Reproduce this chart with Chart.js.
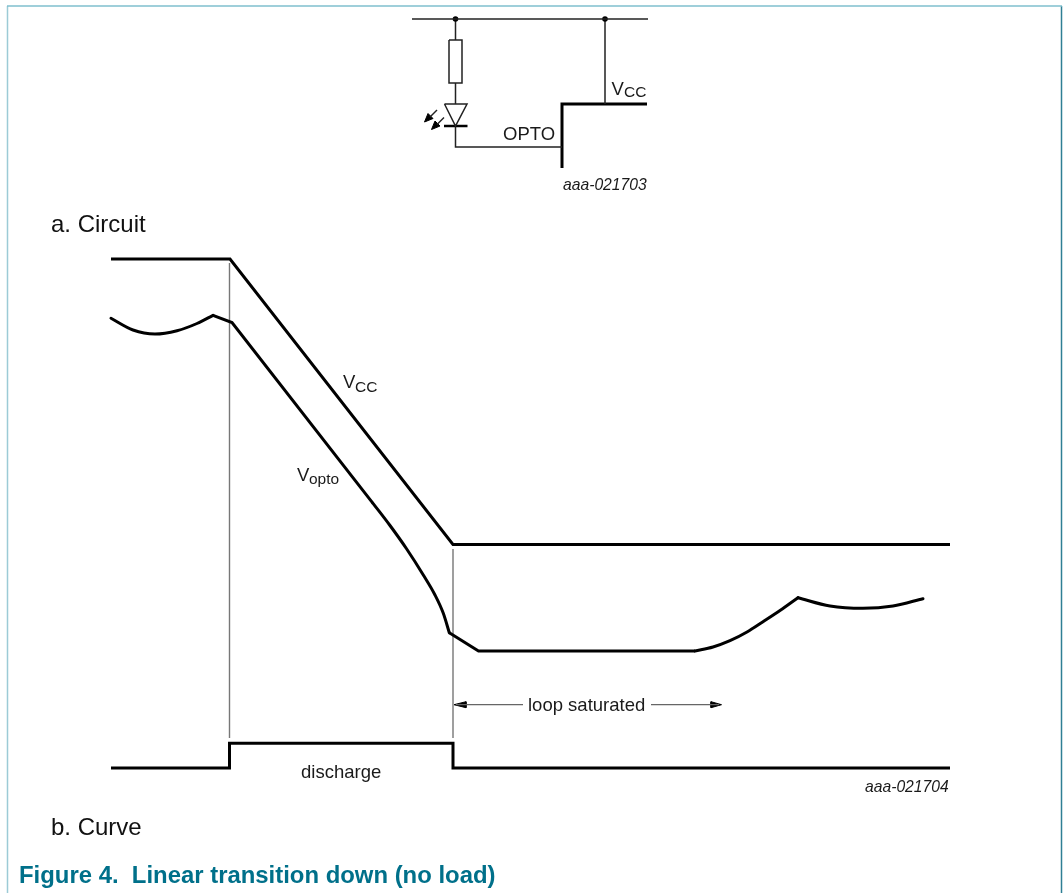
<!DOCTYPE html>
<html>
<head>
<meta charset="utf-8">
<title>Linear transition down (no load)</title>
<script src="https://cdn.jsdelivr.net/npm/chart.js@4"></script>
<style>
  html, body { margin: 0; padding: 0; background: #fff; }
  canvas { display: block; }
</style>
</head>
<body>
<canvas id="chart" width="1063" height="893"></canvas>
<script>
// waveforms (x / y, y grows downwards)
const vccX = [111, 230, 453, 950];
const vccY = [259, 259, 544.5, 544.5];

const voptoArcX = [111, 133, 155, 177, 197, 213];
const voptoArcY = [318.3, 330, 334, 330.7, 323.5, 315.3];
const voptoFallX = [213, 232, 373];
const voptoFallY = [315.3, 322.5, 503.3];
const voptoBendX = [373, 390, 406.7, 423.3, 435, 443.3, 449.3];
const voptoBendY = [503.3, 525.5, 549, 575, 595, 613.3, 632.7];
const voptoFlatX = [449.3, 478.5, 695];
const voptoFlatY = [632.7, 651, 651];
const voptoRiseX = [695, 713, 730, 747, 763, 780, 798];
const voptoRiseY = [651, 647, 640.7, 632, 621.7, 610.5, 597.7];
const voptoTailX = [798, 830, 863, 893, 923];
const voptoTailY = [597.7, 606, 608.3, 606, 598.7];

const dischargeX = [111, 229.5, 229.5, 453, 453, 950];
const dischargeY = [768, 768, 743.3, 743.3, 768, 768];

// timing guides and the "loop saturated" arrow
const guideAX = [229.5, 229.5];
const guideAY = [263, 738];
const guideBX = [453, 453];
const guideBY = [549, 738];
const arrowLeftX = [456, 523];
const arrowRightX = [651, 719];
const arrowY = [704.7, 704.7];
const headLeftX = [454, 466, 466, 454];
const headLeftY = [704.7, 701.7, 707.7, 704.7];
const headRightX = [721.5, 711, 711, 721.5];
const headRightY = [704.7, 701.7, 707.7, 704.7];

// circuit
const railX = [412, 648];
const railY = [19, 19];
const nodeX = [455.5, 605];
const nodeY = [19, 19];
const wireTopX = [455.5, 455.5];
const wireTopY = [19, 40];
const resistorX = [449, 462, 462, 449, 449];
const resistorY = [40, 40, 83, 83, 40];
const wireMidX = [455.5, 455.5];
const wireMidY = [83, 104];
const diodeX = [444.5, 467, 455.5, 444.5];
const diodeY = [104, 104, 126, 104];
const diodeBarX = [444, 467.5];
const diodeBarY = [126, 126];
const wireOptoX = [455.5, 455.5, 562];
const wireOptoY = [126, 147, 147];
const wireVccX = [605, 605];
const wireVccY = [19, 104];
const pinX = [562, 562, 647];
const pinY = [168, 104, 104];
const ledRay1X = [437, 430];
const ledRay1Y = [110, 117];
const ledRay2X = [444, 437];
const ledRay2Y = [117.5, 124.5];
const ledHead1X = [424.5, 433, 428, 424.5];
const ledHead1Y = [122, 118.5, 113.5, 122];
const ledHead2X = [431.5, 440, 435, 431.5];
const ledHead2Y = [129.5, 126, 121, 129.5];

// page frame
const frameTopX = [7, 1062];
const frameTopY = [6, 6];
const frameLeftX = [7.5, 7.5];
const frameLeftY = [6, 893];
const frameRightX = [1061.5, 1061.5];
const frameRightY = [6, 893];

const zip = (xs, ys) => xs.map((x, i) => ({ x: x, y: ys[i] }));

const line = (xs, ys, width, color) => ({
  data: zip(xs, ys),
  showLine: true,
  borderColor: color || '#000',
  borderWidth: width,
  pointRadius: 0,
  tension: 0,
  fill: false,
  borderCapStyle: 'butt',
  borderJoinStyle: 'miter'
});

const curve = (xs, ys) => ({
  ...line(xs, ys, 3),
  cubicInterpolationMode: 'monotone',
  borderCapStyle: 'round'
});

const shape = (xs, ys, fillColor) => ({
  ...line(xs, ys, 1),
  backgroundColor: fillColor,
  fill: 'shape'
});

// [text, x, y, font, colour] in the same units as the data
const labels = [
  ['V', 611.5, 95, '18.5px', '#1a1a1a'],
  ['CC', 624, 97, '15.5px', '#1a1a1a'],
  ['OPTO', 503, 140, '18.5px', '#1a1a1a'],
  ['aaa-021703', 563, 190, 'italic 15.7px', '#1a1a1a'],
  ['a. Circuit', 51, 232, '24px', '#111'],
  ['V', 343, 388, '18.5px', '#1a1a1a'],
  ['CC', 355, 392, '15.5px', '#1a1a1a'],
  ['V', 297, 481, '18.5px', '#1a1a1a'],
  ['opto', 309, 484, '15.5px', '#1a1a1a'],
  ['loop saturated', 528, 710.5, '18.5px', '#1a1a1a'],
  ['discharge', 301, 777.5, '18.5px', '#1a1a1a'],
  ['aaa-021704', 865, 791.5, 'italic 15.7px', '#1a1a1a'],
  ['b. Curve', 51, 835, '24px', '#111'],
  ['Figure 4.  Linear transition down (no load)', 19, 883, 'bold 23.9px', '#00708a']
];

const textPlugin = {
  id: 'labels',
  afterDraw(chart) {
    const { ctx, scales } = chart;
    ctx.save();
    ctx.textAlign = 'left';
    ctx.textBaseline = 'alphabetic';
    labels.forEach(([text, x, y, font, color]) => {
      ctx.font = font + ' "Liberation Sans", Arial, sans-serif';
      ctx.fillStyle = color;
      ctx.fillText(text, scales.x.getPixelForValue(x), scales.y.getPixelForValue(y));
    });
    ctx.restore();
  }
};

new Chart(document.getElementById('chart'), {
  type: 'scatter',
  data: {
    datasets: [
      line(vccX, vccY, 3),
      curve(voptoArcX, voptoArcY),
      line(voptoFallX, voptoFallY, 3),
      curve(voptoBendX, voptoBendY),
      line(voptoFlatX, voptoFlatY, 3),
      curve(voptoRiseX, voptoRiseY),
      curve(voptoTailX, voptoTailY),
      line(dischargeX, dischargeY, 3),
      line(guideAX, guideAY, 1.4, '#777'),
      line(guideBX, guideBY, 1.4, '#777'),
      line(arrowLeftX, arrowY, 1.3, '#666'),
      line(arrowRightX, arrowY, 1.3, '#666'),
      shape(headLeftX, headLeftY, '#000'),
      shape(headRightX, headRightY, '#000'),
      line(railX, railY, 1.5, '#222'),
      { data: zip(nodeX, nodeY), pointRadius: 2.8, backgroundColor: '#000', borderWidth: 0 },
      line(wireTopX, wireTopY, 1.5, '#222'),
      line(resistorX, resistorY, 1.5, '#222'),
      line(wireMidX, wireMidY, 1.5, '#222'),
      line(diodeX, diodeY, 1.5, '#222'),
      line(diodeBarX, diodeBarY, 2.5),
      line(wireOptoX, wireOptoY, 1.5, '#222'),
      line(wireVccX, wireVccY, 1.5, '#222'),
      line(pinX, pinY, 3),
      line(ledRay1X, ledRay1Y, 1.5, '#222'),
      line(ledRay2X, ledRay2Y, 1.5, '#222'),
      shape(ledHead1X, ledHead1Y, '#000'),
      shape(ledHead2X, ledHead2Y, '#000'),
      line(frameTopX, frameTopY, 1.5, '#7fbfce'),
      line(frameLeftX, frameLeftY, 1.5, '#9ccbd6'),
      line(frameRightX, frameRightY, 1.5, '#2f7f95')
    ]
  },
  plugins: [textPlugin],
  options: {
    responsive: false,
    animation: false,
    layout: { padding: 0, autoPadding: false },
    plugins: {
      legend: { display: false },
      title: { display: false },
      tooltip: { enabled: false }
    },
    scales: {
      x: { type: 'linear', min: 0, max: 1063, display: false },
      y: { type: 'linear', min: 0, max: 893, reverse: true, display: false }
    }
  }
});
</script>
</body>
</html>
